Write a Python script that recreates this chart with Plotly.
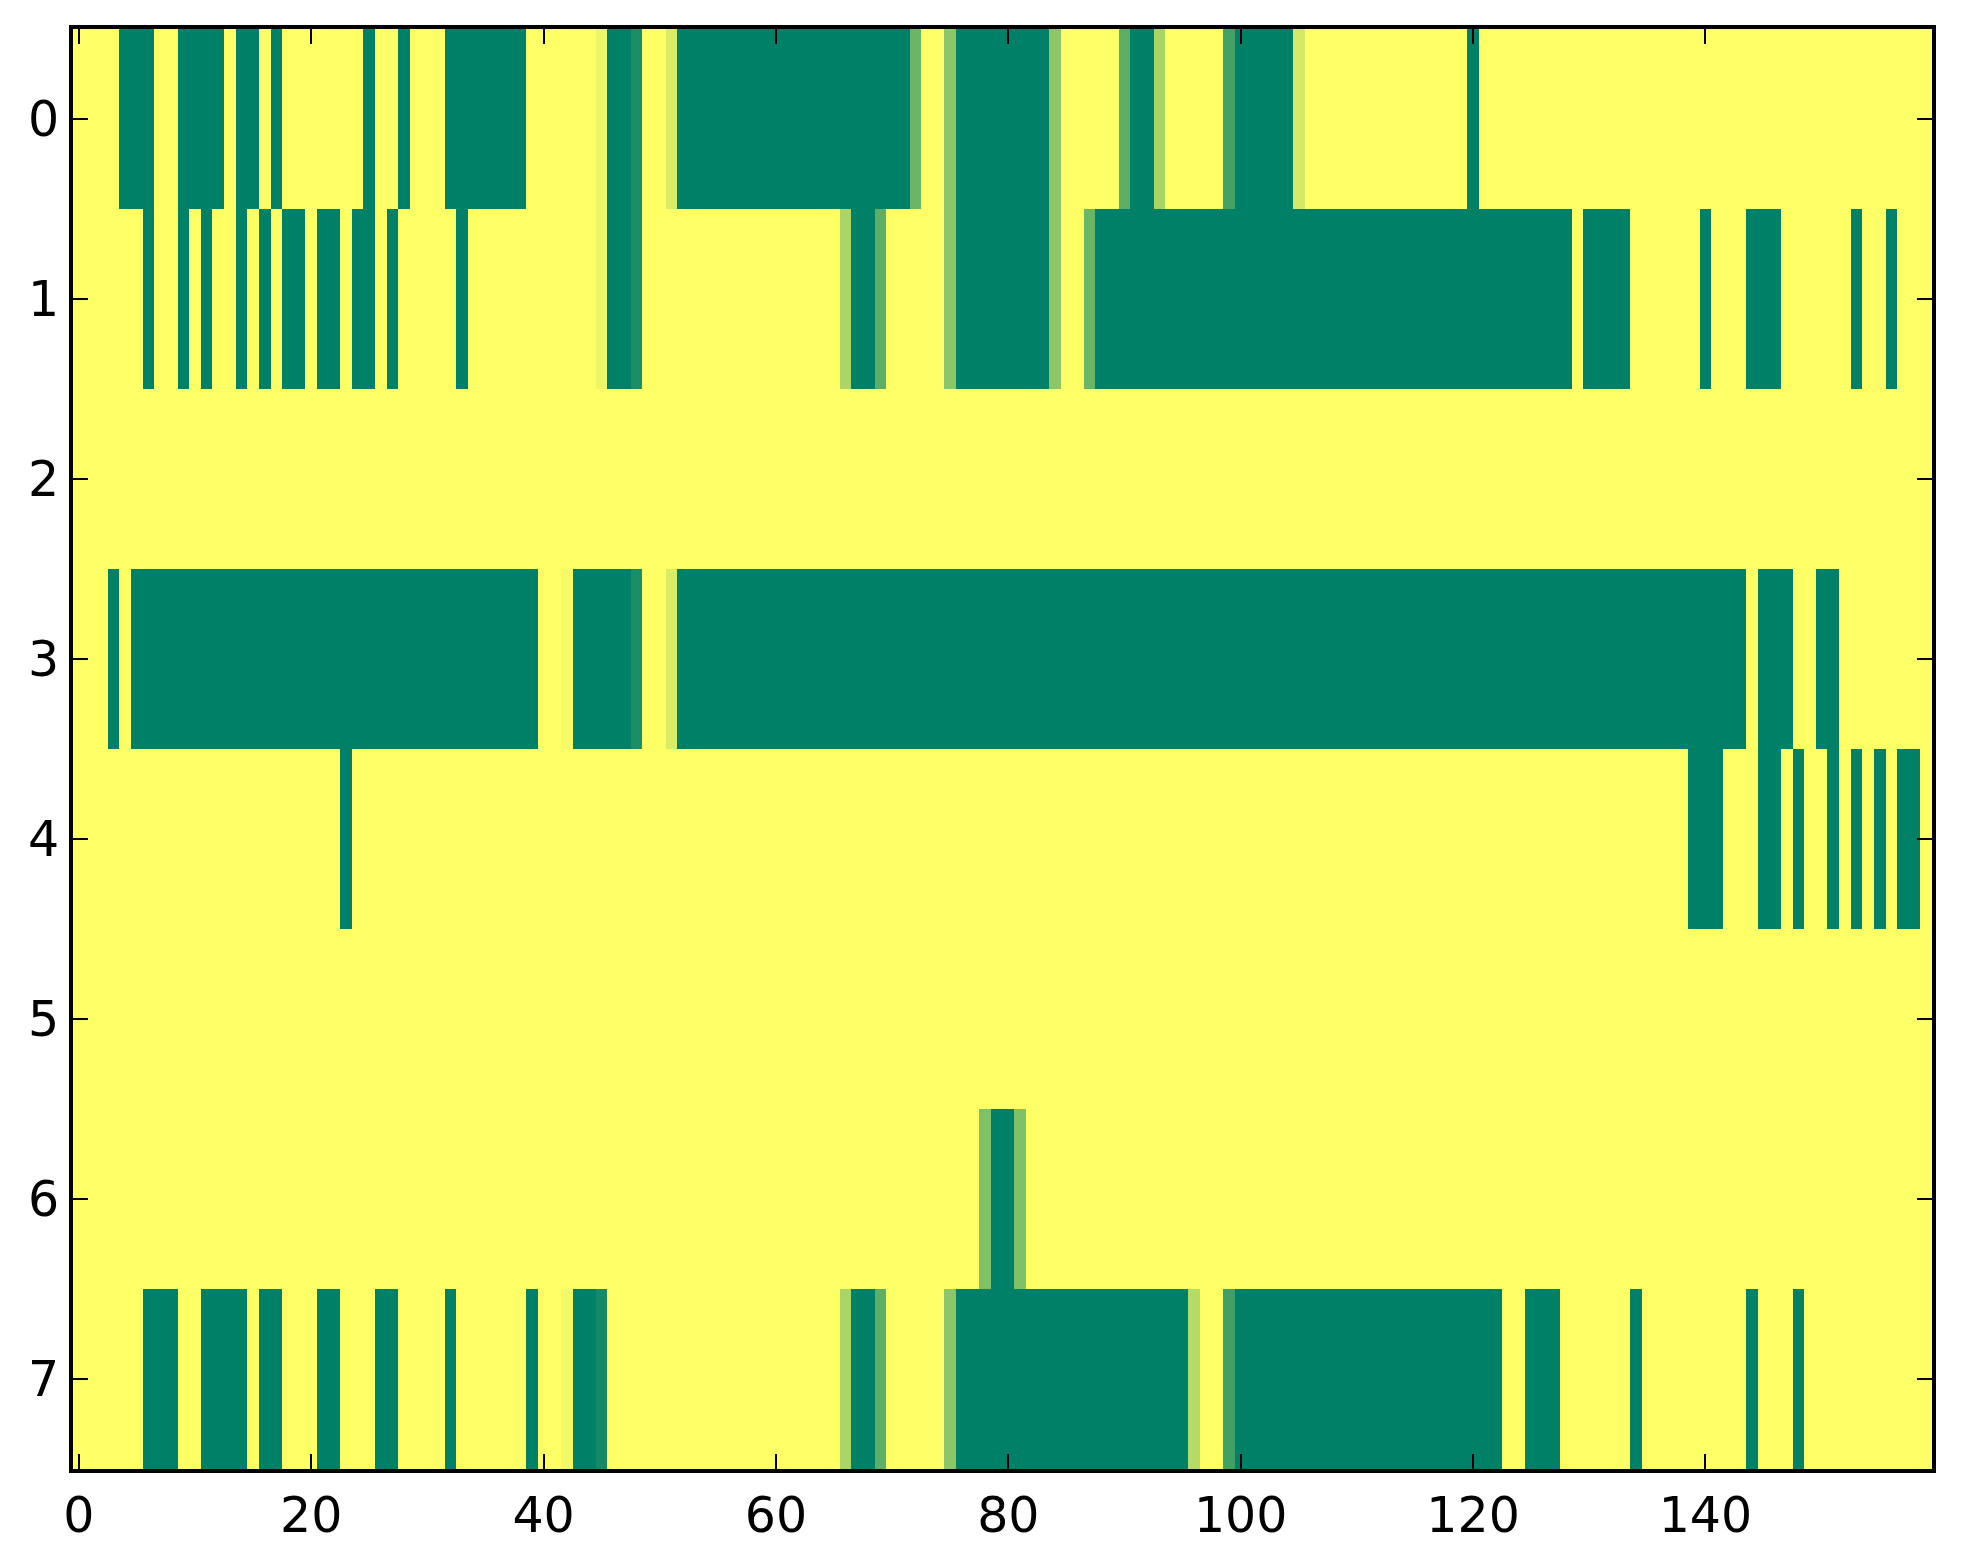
import numpy as np
import plotly.graph_objects as go

n_rows = 8
n_cols = 160

# green runs (value 0), inclusive column ranges, per row
row0_green = [(4, 6), (9, 12), (14, 15), (17, 17), (25, 25), (28, 28), (32, 38), (46, 47),
              (52, 71), (76, 83), (91, 92), (100, 104), (120, 120)]
row1_green = [(6, 6), (9, 9), (11, 11), (14, 14), (16, 16), (18, 19), (21, 22), (24, 25),
              (27, 27), (33, 33), (46, 47), (67, 68), (76, 83), (88, 128), (130, 133),
              (140, 140), (144, 146), (153, 153), (156, 156)]
row2_green = []
row3_green = [(3, 3), (5, 39), (43, 47), (52, 143), (145, 147), (150, 151)]
row4_green = [(23, 23), (139, 141), (145, 146), (148, 148), (151, 151), (153, 153),
              (155, 155), (157, 158)]
row5_green = []
row6_green = [(79, 80)]
row7_green = [(6, 8), (11, 14), (16, 17), (21, 22), (26, 27), (32, 32), (39, 39), (43, 44),
              (67, 68), (76, 95), (100, 122), (125, 127), (134, 134), (144, 144), (148, 148)]

# in-between cells (column: value)
row0_mid = {45: 0.93, 48: 0.11, 51: 0.85, 72: 0.42, 75: 0.55, 84: 0.55, 90: 0.37,
            93: 0.66, 99: 0.27, 105: 0.83}
row1_mid = {45: 0.93, 48: 0.11, 66: 0.67, 69: 0.37, 75: 0.55, 84: 0.55, 87: 0.42}
row2_mid = {}
row3_mid = {42: 0.96, 48: 0.11, 51: 0.85}
row4_mid = {}
row5_mid = {}
row6_mid = {78: 0.5, 81: 0.5}
row7_mid = {42: 0.95, 45: 0.08, 66: 0.67, 69: 0.37, 75: 0.55, 96: 0.71, 99: 0.25}

greens = [row0_green, row1_green, row2_green, row3_green,
          row4_green, row5_green, row6_green, row7_green]
mids = [row0_mid, row1_mid, row2_mid, row3_mid, row4_mid, row5_mid, row6_mid, row7_mid]

x_ticks = [0, 20, 40, 60, 80, 100, 120, 140]
y_ticks = [0, 1, 2, 3, 4, 5, 6, 7]

z = np.ones((n_rows, n_cols))
for r in range(n_rows):
    for a, b in greens[r]:
        z[r, a:b + 1] = 0.0
    for c, v in mids[r].items():
        z[r, c] = v

# matplotlib "summer"
summer = [[0.0, "rgb(0,128,102)"], [1.0, "rgb(255,255,102)"]]

fig = go.Figure(go.Heatmap(
    z=z, x=list(range(n_cols)), y=list(range(n_rows)),
    colorscale=summer, zmin=0, zmax=1, showscale=False,
))

axis_style = dict(
    showline=True, linecolor="black", linewidth=4, mirror="ticks",
    ticks="inside", ticklen=15, tickwidth=2, tickcolor="black",
    showgrid=False, zeroline=False,
    tickfont=dict(family="DejaVu Sans", size=49, color="black"),
)
fig.update_xaxes(range=[-0.5, n_cols - 0.5], tickvals=x_ticks, **axis_style)
fig.update_yaxes(range=[n_rows - 0.5, -0.5], tickvals=y_ticks, **axis_style)

# page body has an 8px default margin, so the figure is a bit smaller
fig.update_layout(
    width=1955, height=1556,
    margin=dict(l=65, r=31, t=21, b=95),
    paper_bgcolor="white", plot_bgcolor="white",
)

fig.write_html("out.html")
